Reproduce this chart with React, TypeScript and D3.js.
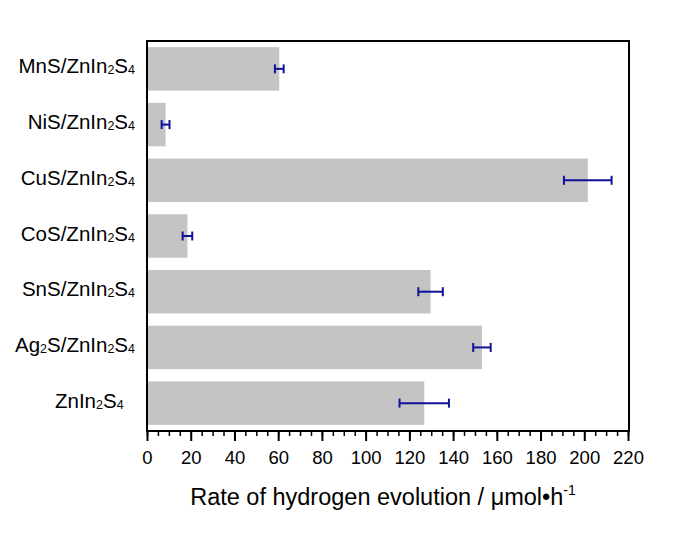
import { useEffect, useRef } from 'react';
import * as d3 from 'd3';

// categories top -> bottom, label parts: [text, isSubscript]
const categories = ['MnS', 'NiS', 'CuS', 'CoS', 'SnS', 'Ag2S', 'ZnIn2S4'];
const labelParts: [string, boolean][][] = [
  [['MnS/ZnIn', false], ['2', true], ['S', false], ['4', true]],
  [['NiS/ZnIn', false], ['2', true], ['S', false], ['4', true]],
  [['CuS/ZnIn', false], ['2', true], ['S', false], ['4', true]],
  [['CoS/ZnIn', false], ['2', true], ['S', false], ['4', true]],
  [['SnS/ZnIn', false], ['2', true], ['S', false], ['4', true]],
  [['Ag', false], ['2', true], ['S/ZnIn', false], ['2', true], ['S', false], ['4', true]],
  [['ZnIn', false], ['2', true], ['S', false], ['4', true], ['\u00a0\u00a0', false]],
];
const rates = [60.5, 8.5, 201.6, 18.5, 129.7, 153.2, 126.8];
const errors = [2.0, 1.8, 10.9, 2.2, 5.6, 4.0, 11.3];
const xTicks = [0, 20, 40, 60, 80, 100, 120, 140, 160, 180, 200, 220];

export default function App() {
  const ref = useRef<SVGSVGElement>(null);

  useEffect(() => {
    const svg = d3.select(ref.current);
    svg.selectAll('*').remove();

    const left = 147, right = 629, top = 41, bottom = 431;
    const font = 'Arial, "Liberation Sans", sans-serif';

    const x = d3.scaleLinear().domain([0, 220]).range([left, right - 1]);
    const y = d3.scaleBand().domain(categories).range([top, bottom]).paddingInner(0.22).paddingOuter(0.11);

    svg.append('g').selectAll('rect').data(categories).enter().append('rect')
      .attr('x', x(0)).attr('y', d => y(d)!)
      .attr('width', (d, i) => x(rates[i]) - x(0)).attr('height', y.bandwidth())
      .style('fill', '#c4c4c4');

    // error bars
    const eb = svg.append('g').style('stroke', '#10109a').style('stroke-width', 2).style('fill', 'none');
    categories.forEach((c, i) => {
      const cy = y(c)! + y.bandwidth() / 2;
      const x0 = x(rates[i] - errors[i]), x1 = x(rates[i] + errors[i]);
      eb.append('line').attr('x1', x0).attr('x2', x1).attr('y1', cy).attr('y2', cy);
      eb.append('line').attr('x1', x0).attr('x2', x0).attr('y1', cy - 4.5).attr('y2', cy + 4.5);
      eb.append('line').attr('x1', x1).attr('x2', x1).attr('y1', cy - 4.5).attr('y2', cy + 4.5);
    });

    // frame
    svg.append('rect').attr('x', left).attr('y', top).attr('width', right - left).attr('height', bottom - top)
      .style('fill', 'none').style('stroke', '#000').style('stroke-width', 2);

    // x axis
    const ax = svg.append('g').attr('transform', `translate(0,${bottom})`)
      .call(d3.axisBottom(x).tickValues(d3.range(0, 221, 5)).tickSize(5).tickFormat(() => ''));
    ax.select('.domain').remove();
    ax.selectAll('line').style('stroke', '#000').style('stroke-width', 1.5);
    const ax2 = svg.append('g').attr('transform', `translate(0,${bottom})`)
      .call(d3.axisBottom(x).tickValues(xTicks).tickSize(10).tickPadding(10).tickFormat(d => String(d)));
    ax2.select('.domain').remove();
    ax2.selectAll('line').style('stroke', '#000').style('stroke-width', 2);
    ax2.selectAll('text').style('font-family', font).style('font-size', '18.5px').style('fill', '#000');

    // category labels
    categories.forEach((c, i) => {
      const t = svg.append('text').attr('x', 135).attr('y', y(c)! + y.bandwidth() / 2 + 4.5)
        .attr('text-anchor', 'end').style('font-family', font).style('font-size', '20.5px').style('fill', '#000')
        .style('white-space', 'pre');
      let sub = false;
      labelParts[i].forEach(([s, isSub]) => {
        const dy = isSub && !sub ? 1 : !isSub && sub ? -1 : 0;
        t.append('tspan').attr('dy', dy).style('font-size', isSub ? '12.5px' : '20.5px').text(s);
        sub = isSub;
      });
    });

    // axis title
    const title = svg.append('text').attr('x', 383).attr('y', 505).attr('text-anchor', 'middle')
      .style('font-family', font).style('font-size', '23.5px').style('fill', '#000');
    title.append('tspan').text('Rate of hydrogen evolution / \u03bcmol\u2022h');
    title.append('tspan').attr('dy', -10).style('font-size', '14px').text('-1');
  }, []);

  return (
    <svg ref={ref} width={685} height={559}
      style={{ position: 'absolute', left: 0, top: 0, background: '#fff', display: 'block' }} />
  );
}
